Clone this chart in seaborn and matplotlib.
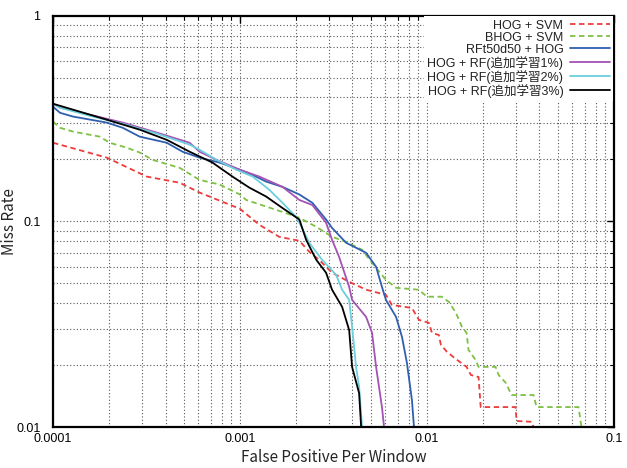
import pandas as pd
import seaborn as sns
import matplotlib.pyplot as plt
from matplotlib.ticker import LogLocator, FixedLocator, FixedFormatter, NullFormatter

# values (FPPW, miss rate)
hog_svm_x = [1e-4, 1.94e-4, 3.17e-4, 4.76e-4, 6.08e-4, 1e-3, 1.27e-3, 1.62e-3, 2.08e-3, 2.35e-3,
             2.65e-3, 3.11e-3, 3.84e-3, 4.73e-3, 6.04e-3, 6.5e-3, 8.32e-3, 9.06e-3, 0.01025, 0.01064,
             0.01159, 0.01188, 0.0128, 0.0143, 0.0163, 0.0172, 0.0189, 0.0194, 0.0298, 0.0302,
             0.0363, 0.0372]
hog_svm_y = [0.241, 0.204, 0.165, 0.154, 0.138, 0.115, 0.0962, 0.0841, 0.0804, 0.0711,
             0.0650, 0.0562, 0.0508, 0.0465, 0.0439, 0.0392, 0.0379, 0.0332, 0.0321, 0.0287,
             0.0280, 0.0251, 0.0232, 0.0214, 0.0196, 0.0179, 0.0175, 0.0125, 0.0125, 0.0107,
             0.0106, 0.0100]

bhog_svm_x = [1e-4, 1.09e-4, 1.28e-4, 1.78e-4, 2.01e-4, 2.48e-4, 2.91e-4, 3.41e-4, 4.76e-4, 6.08e-4,
              7.78e-4, 1e-3, 1.08e-3, 1.38e-3, 1.69e-3, 2.08e-3, 2.56e-3, 3.11e-3, 3.70e-3, 4.5e-3,
              5.09e-3, 6.04e-3, 6.84e-3, 9.06e-3, 0.0100, 0.0120, 0.0131, 0.0143, 0.0154, 0.0163,
              0.0167, 0.0182, 0.0189, 0.0233, 0.0242, 0.0264, 0.0284, 0.0372, 0.0386, 0.0647,
              0.0663, 0.0671]
bhog_svm_y = [0.305, 0.285, 0.273, 0.258, 0.241, 0.228, 0.216, 0.199, 0.182, 0.159,
              0.151, 0.135, 0.127, 0.118, 0.111, 0.104, 0.0940, 0.0841, 0.0795, 0.0727,
              0.0628, 0.0519, 0.0475, 0.0465, 0.0430, 0.0430, 0.0406, 0.0359, 0.0307, 0.0287,
              0.0237, 0.0212, 0.0196, 0.0196, 0.0179, 0.0164, 0.0143, 0.0143, 0.0125, 0.0125,
              0.0108, 0.0100]

rft_x = [1e-4, 1.09e-4, 1.28e-4, 1.94e-4, 2.36e-4, 2.91e-4, 4.06e-4, 4.93e-4, 6.08e-4, 7.78e-4,
         1e-3, 1.17e-3, 1.38e-3, 1.69e-3, 2.08e-3, 2.44e-3, 2.89e-3, 3.11e-3, 3.70e-3, 4.73e-3,
         5.35e-3, 5.75e-3, 6.04e-3, 6.84e-3, 7.36e-3, 7.82e-3, 8.32e-3, 8.53e-3]
rft_y = [0.361, 0.337, 0.323, 0.302, 0.285, 0.258, 0.241, 0.218, 0.204, 0.193,
         0.178, 0.168, 0.156, 0.147, 0.135, 0.123, 0.102, 0.0929, 0.0786, 0.0703,
         0.0601, 0.0480, 0.0415, 0.0343, 0.0274, 0.0205, 0.0135, 0.0100]

rf1_x = [1e-4, 1.09e-4, 1.57e-4, 2.36e-4, 3.59e-4, 5.38e-4, 6.08e-4, 7.5e-4, 1e-3, 1.27e-3,
         1.69e-3, 2.08e-3, 2.44e-3, 2.89e-3, 3.11e-3, 3.39e-3, 3.84e-3, 3.98e-3, 4.73e-3, 5.09e-3,
         5.35e-3, 5.75e-3, 5.9e-3]
rf1_y = [0.373, 0.357, 0.330, 0.302, 0.270, 0.241, 0.218, 0.199, 0.178, 0.165,
         0.147, 0.127, 0.120, 0.0984, 0.0813, 0.0672, 0.0480, 0.0415, 0.0343, 0.0287,
         0.0196, 0.0125, 0.0100]

rf2_x = [1e-4, 1.09e-4, 1.57e-4, 2.36e-4, 3.59e-4, 5.38e-4, 6.08e-4, 7.5e-4, 9.58e-4, 1.17e-3,
         1.44e-3, 1.69e-3, 2.0e-3, 2.08e-3, 2.35e-3, 2.75e-3, 3.27e-3, 3.52e-3, 3.84e-3, 3.98e-3,
         4.18e-3, 4.34e-3, 4.5e-3]
rf2_y = [0.373, 0.357, 0.326, 0.298, 0.267, 0.236, 0.223, 0.199, 0.178, 0.165,
         0.142, 0.123, 0.105, 0.0984, 0.0786, 0.0650, 0.0549, 0.0465, 0.0415, 0.0307,
         0.0196, 0.0157, 0.0100]

rf3_x = [1e-4, 1.28e-4, 1.94e-4, 2.91e-4, 4.06e-4, 5.38e-4, 7.13e-4, 9.12e-4, 1.12e-3, 1.38e-3,
         1.69e-3, 2.08e-3, 2.26e-3, 2.56e-3, 2.89e-3, 3.11e-3, 3.52e-3, 3.84e-3, 3.98e-3, 4.34e-3,
         4.45e-3]
rf3_y = [0.373, 0.349, 0.312, 0.279, 0.249, 0.218, 0.193, 0.165, 0.146, 0.132,
         0.116, 0.102, 0.0813, 0.0650, 0.0562, 0.0465, 0.0384, 0.0296, 0.0196, 0.0146,
         0.0100]

labels = ['HOG + SVM', 'BHOG + SVM', 'RFt50d50 + HOG',
          'HOG + RF(追加学習1%)', 'HOG + RF(追加学習2%)', 'HOG + RF(追加学習3%)']
series = [(hog_svm_x, hog_svm_y), (bhog_svm_x, bhog_svm_y), (rft_x, rft_y),
          (rf1_x, rf1_y), (rf2_x, rf2_y), (rf3_x, rf3_y)]
colors = ['#ee3b3b', '#7dc143', '#2f5fae', '#a452b4', '#6ccfdd', '#000000']
styles = [(0, (3, 2)), (0, (3, 2)), '-', '-', '-', '-']

sns.set_style('white')
plt.rcParams['font.family'] = ['Liberation Sans', 'Noto Sans CJK JP']

fig = plt.figure(figsize=(6.27, 4.68), dpi=100)
ax = fig.add_axes([0.0845, 0.0876, 0.8945, 0.879])

for lab, (xs, ys), c, ls in zip(labels, series, colors, styles):
    df = pd.DataFrame({'fppw': xs, 'miss': ys})
    sns.lineplot(data=df, x='fppw', y='miss', ax=ax, sort=False, estimator=None,
                 color=c, linestyle=ls, linewidth=1.3, label=lab)

ax.set_xscale('log')
ax.set_yscale('log')
ax.set_xlim(1e-4, 1e-1)
ax.set_ylim(1e-2, 1)

ax.xaxis.set_major_locator(FixedLocator([1e-4, 1e-3, 1e-2, 1e-1]))
ax.xaxis.set_major_formatter(FixedFormatter(['0.0001', '0.001', '0.01', '0.1']))
ax.yaxis.set_major_locator(FixedLocator([1e-2, 1e-1, 1]))
ax.yaxis.set_major_formatter(FixedFormatter(['0.01', '0.1', '1']))
ax.xaxis.set_minor_locator(LogLocator(base=10, subs=range(2, 10)))
ax.yaxis.set_minor_locator(LogLocator(base=10, subs=range(2, 10)))
ax.xaxis.set_minor_formatter(NullFormatter())
ax.yaxis.set_minor_formatter(NullFormatter())

ax.grid(True, which='both', linestyle=(0, (1, 2)), color='#555555', linewidth=0.8)
ax.tick_params(which='both', direction='in', top=True, right=True, labelsize=9, colors='black')
ax.tick_params(which='major', length=5, width=1)
ax.tick_params(which='minor', length=3, width=0.8)
ax.tick_params(axis='x', pad=4)
ax.tick_params(axis='y', pad=9)
for sp in ax.spines.values():
    sp.set_color('black')
    sp.set_linewidth(1.6)

ax.set_xlabel('False Positive Per Window', fontsize=11, family='Noto Sans CJK JP', labelpad=3)
ax.set_ylabel('Miss Rate', fontsize=11, family='Noto Sans CJK JP')
ax.yaxis.set_label_coords(-0.063, 0.5)

leg = ax.legend(loc='upper right', bbox_to_anchor=(0.998, 0.998), frameon=True,
                markerfirst=False, fontsize=9, handlelength=3.2, handletextpad=0.5,
                labelspacing=0.0, borderaxespad=0.0, borderpad=0.25, fancybox=False)
leg.get_frame().set_facecolor('white')
leg.get_frame().set_edgecolor('none')
leg.get_frame().set_alpha(1)
for t in leg.get_texts():
    t.set_color('#222222')

fig.savefig('out.png', dpi=100)
